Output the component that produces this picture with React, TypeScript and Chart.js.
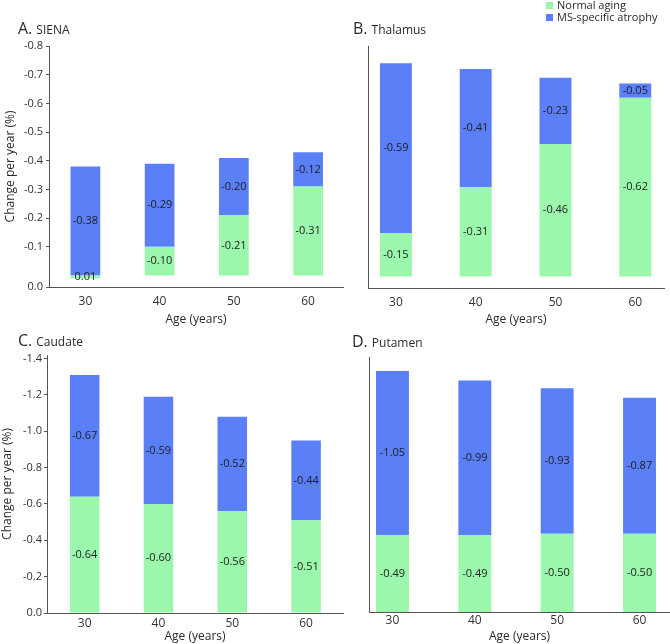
import React, { useEffect, useRef } from 'react';
import { Chart, registerables } from 'chart.js';

Chart.register(...registerables);

// ---------- data ----------
const ages = [30, 40, 50, 60];
const seriesNames = ['Normal aging', 'MS-specific atrophy'];

const sienaNormal = [0.01, -0.10, -0.21, -0.31];
const sienaMS = [-0.38, -0.29, -0.20, -0.12];

const thalamusNormal = [-0.15, -0.31, -0.46, -0.62];
const thalamusMS = [-0.59, -0.41, -0.23, -0.05];

const caudateNormal = [-0.64, -0.60, -0.56, -0.51];
const caudateMS = [-0.67, -0.59, -0.52, -0.44];

const putamenNormal = [-0.49, -0.49, -0.50, -0.50];
const putamenMS = [-1.05, -0.99, -0.93, -0.87];

const topRowTickLabels = ['-0.8', '-0.7', '-0.6', '-0.5', '-0.4', '-0.3', '-0.2', '-0.1', '0.0'];
const bottomRowTickLabels = ['-1.4', '-1.2', '-1.0', '-0.8', '-0.6', '-0.4', '-0.2', '0.0'];

// ---------- style ----------
const GREEN = '#9AF7AB';
const BLUE = '#5A7FF7';
const AXIS = '#555555';
const TEXT = '#2a2a2a';
const FONT = '"Open Sans", "Noto Sans", sans-serif';

Chart.defaults.font.family = FONT;

type PanelCfg = {
  letter: string;
  name: string;
  normal: number[];
  ms: number[];
  left: number;
  top: number;
  width: number;
  height: number;
  xMin: number;
  xMax: number;
  yMin: number;
  yMax: number;
  tickLabels: string[] | null;
  yWidth: number;
  xHeight: number;
  padTop: number;
  padRight: number;
  xTickPad: number;
  xTitlePadBottom: number;
  yTitle: boolean;
  yTitlePad: number;
  yTickPad: number;
  titleLeft: number;
  titleTop: number;
};

const panels: PanelCfg[] = [
  {
    letter: 'A.', name: 'SIENA', normal: sienaNormal, ms: sienaMS,
    left: 0, top: 0, width: 345, height: 330,
    xMin: 25.1, xMax: 64.7, yMin: -0.8, yMax: 0.04, tickLabels: topRowTickLabels,
    yWidth: 49, xHeight: 43, padTop: 46, padRight: 2,
    xTickPad: 7, xTitlePadBottom: 3, yTitle: true, yTitlePad: 3, yTickPad: 3,
    titleLeft: 18, titleTop: 20,
  },
  {
    letter: 'B.', name: 'Thalamus', normal: thalamusNormal, ms: thalamusMS,
    left: 345, top: 0, width: 325, height: 330,
    xMin: 26.5, xMax: 63.6, yMin: -0.8, yMax: 0.04, tickLabels: null,
    yWidth: 23, xHeight: 42, padTop: 46, padRight: 6,
    xTickPad: 7, xTitlePadBottom: 3, yTitle: false, yTitlePad: 0, yTickPad: 3,
    titleLeft: 353, titleTop: 20,
  },
  {
    letter: 'C.', name: 'Caudate', normal: caudateNormal, ms: caudateMS,
    left: 0, top: 330, width: 345, height: 314,
    xMin: 24.9, xMax: 65.0, yMin: -1.42, yMax: 0, tickLabels: bottomRowTickLabels,
    yWidth: 47, xHeight: 31, padTop: 25, padRight: 2,
    xTickPad: 3, xTitlePadBottom: 0, yTitle: true, yTitlePad: 0, yTickPad: 2,
    titleLeft: 18, titleTop: 332,
  },
  {
    letter: 'D.', name: 'Putamen', normal: putamenNormal, ms: putamenMS,
    left: 345, top: 330, width: 325, height: 314,
    xMin: 27.15, xMax: 63.7, yMin: -1.63, yMax: 0, tickLabels: null,
    yWidth: 24, xHeight: 32, padTop: 27, padRight: 0,
    xTickPad: 1, xTitlePadBottom: 0, yTitle: false, yTitlePad: 0, yTickPad: 2,
    titleLeft: 352, titleTop: 333,
  },
];

const valueLabels = {
  id: 'valueLabels',
  afterDatasetsDraw(chart: any) {
    const ctx = chart.ctx;
    ctx.save();
    ctx.font = '11px ' + FONT;
    ctx.fillStyle = '#1e1e1e';
    ctx.textAlign = 'center';
    ctx.textBaseline = 'middle';
    chart.data.datasets.forEach((ds: any, di: number) => {
      const meta = chart.getDatasetMeta(di);
      meta.data.forEach((bar: any, i: number) => {
        const p = bar.getProps(['x', 'y', 'base'], true);
        const v = ds.data[i].y as number;
        ctx.fillText(v.toFixed(2), p.x, (p.y + p.base) / 2);
      });
    });
    ctx.restore();
  },
};

function Panel({ cfg }: { cfg: PanelCfg }) {
  const ref = useRef<HTMLCanvasElement>(null);
  useEffect(() => {
    if (!ref.current) return;
    const labels = cfg.tickLabels;
    const chart = new Chart(ref.current, {
      type: 'bar',
      data: {
        datasets: [
          {
            label: seriesNames[0],
            data: ages.map((a, i) => ({ x: a, y: cfg.normal[i] })),
            backgroundColor: GREEN,
            barPercentage: 0.4,
            categoryPercentage: 1,
          },
          {
            label: seriesNames[1],
            data: ages.map((a, i) => ({ x: a, y: cfg.ms[i] })),
            backgroundColor: BLUE,
            barPercentage: 0.4,
            categoryPercentage: 1,
          },
        ],
      },
      options: {
        animation: false,
        responsive: false,
        devicePixelRatio: window.devicePixelRatio || 1,
        layout: { padding: { top: cfg.padTop, right: cfg.padRight, left: 0, bottom: 0 } },
        plugins: { legend: { display: false }, tooltip: { enabled: false } },
        scales: {
          x: {
            type: 'linear',
            stacked: true,
            offset: false,
            min: cfg.xMin,
            max: cfg.xMax,
            afterBuildTicks: (s: any) => {
              s.ticks = ages.map((v) => ({ value: v }));
            },
            ticks: {
              font: { size: 12 },
              color: '#333',
              padding: cfg.xTickPad,
              autoSkip: false,
              maxRotation: 0,
              callback: (v: any) => String(v),
            },
            grid: { display: false, drawTicks: false },
            border: { display: true, color: AXIS, width: 1 },
            title: {
              display: true,
              text: 'Age (years)',
              font: { size: 12 },
              color: TEXT,
              padding: { top: 0, bottom: cfg.xTitlePadBottom },
            },
            afterFit: (s: any) => {
              s.height = cfg.xHeight;
            },
          },
          y: {
            type: 'linear',
            stacked: true,
            reverse: true,
            min: cfg.yMin,
            max: cfg.yMax,
            afterBuildTicks: (s: any) => {
              if (labels) {
                s.ticks = labels.map((l) => ({ value: Number(l) === 0 ? cfg.yMax : Number(l) }));
              }
            },
            ticks: {
              display: !!labels,
              font: { size: 11 },
              color: '#333',
              padding: cfg.yTickPad,
              callback: (_v: any, i: number) => (labels ? labels[i] : ''),
            },
            grid: {
              display: !!labels,
              drawOnChartArea: false,
              drawTicks: true,
              tickLength: 3,
              color: AXIS,
            },
            border: { display: true, color: AXIS, width: 1 },
            title: {
              display: cfg.yTitle,
              text: 'Change per year (%)',
              font: { size: 12 },
              color: TEXT,
              padding: { top: cfg.yTitlePad, bottom: 0 },
            },
            afterFit: (s: any) => {
              s.width = cfg.yWidth;
            },
          },
        },
      } as any,
      plugins: [valueLabels],
    });
    return () => chart.destroy();
  }, [cfg]);

  return (
    <canvas
      ref={ref}
      width={cfg.width}
      height={cfg.height}
      style={{ position: 'absolute', left: cfg.left, top: cfg.top, width: cfg.width, height: cfg.height }}
    />
  );
}

export default function App() {
  return (
    <div
      style={{
        position: 'absolute',
        left: 0,
        top: 0,
        width: 670,
        height: 644,
        background: '#fff',
        fontFamily: FONT,
        color: TEXT,
        overflow: 'hidden',
      }}
    >
      {panels.map((p) => (
        <Panel key={p.letter} cfg={p} />
      ))}
      {panels.map((p) => (
        <div
          key={'t' + p.letter}
          style={{
            position: 'absolute',
            left: p.titleLeft,
            top: p.titleTop,
            whiteSpace: 'nowrap',
            lineHeight: '16px',
            color: TEXT,
          }}
        >
          <span style={{ fontSize: 16 }}>{p.letter}</span>
          <span style={{ fontSize: 12, marginLeft: 4 }}>{p.name}</span>
        </div>
      ))}
      <div style={{ position: 'absolute', left: 546, top: -1, fontSize: 11, lineHeight: '12px', color: TEXT }}>
        {seriesNames.map((n, i) => (
          <div key={n} style={{ display: 'flex', alignItems: 'center', whiteSpace: 'nowrap' }}>
            <span
              style={{
                display: 'inline-block',
                width: 7,
                height: 7,
                background: i === 0 ? GREEN : BLUE,
                marginRight: 4,
              }}
            />
            <span>{n}</span>
          </div>
        ))}
      </div>
    </div>
  );
}
